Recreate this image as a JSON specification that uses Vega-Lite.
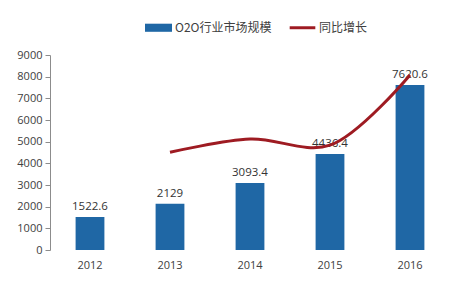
{
  "$schema": "https://vega.github.io/schema/vega-lite/v6.json",
  "autosize": "none",
  "width": 400,
  "height": 195,
  "padding": {"left": 50, "top": 55, "right": 0, "bottom": 43},
  "background": "white",
  "config": {
    "view": {"stroke": null},
    "font": "Open Sans",
    "text": {"font": "Open Sans"}
  },
  "data": {
    "values": [
      {"year": "2012", "value": 1522.6, "growth": null},
      {"year": "2013", "value": 2129, "growth": 0.401},
      {"year": "2014", "value": 3093.4, "growth": 0.455},
      {"year": "2015", "value": 4436.4, "growth": 0.43},
      {"year": "2016", "value": 7620.6, "growth": 0.718}
    ]
  },
  "encoding": {
    "x": {
      "field": "year",
      "type": "ordinal",
      "scale": {"paddingInner": 0.64, "paddingOuter": 0.32},
      "axis": {
        "title": null,
        "domain": false,
        "ticks": false,
        "labelAngle": 0,
        "labelPadding": 9,
        "labelFontSize": 11,
        "labelColor": "#404040",
        "labelFont": "Open Sans"
      }
    }
  },
  "layer": [
    {
      "mark": {"type": "bar"},
      "encoding": {
        "y": {
          "field": "value",
          "type": "quantitative",
          "scale": {"domain": [0, 9000]},
          "axis": {
            "title": null,
            "grid": false,
            "format": "d",
            "values": [0, 1000, 2000, 3000, 4000, 5000, 6000, 7000, 8000, 9000],
            "domainColor": "#8c8c8c",
            "tickColor": "#8c8c8c",
            "tickSize": 5,
            "labelPadding": 3,
            "labelFontSize": 11,
            "labelColor": "#404040",
            "labelFont": "Open Sans"
          }
        },
        "color": {
          "datum": "O2O行业市场规模",
          "type": "nominal",
          "scale": {"domain": ["O2O行业市场规模", "同比增长"], "range": ["#1f67a5", "#9e1b22"]},
          "legend": {
            "title": null,
            "orient": "none",
            "legendX": 95,
            "legendY": -41,
            "direction": "horizontal",
            "columns": 2,
            "columnPadding": 17,
            "padding": 0,
            "symbolSize": 729,
            "labelOffset": 3,
            "labelFontSize": 12,
            "labelColor": "#404040",
            "labelFont": "Noto Sans CJK SC",
            "encode": {
              "symbols": {
                "update": {
                  "shape": {"signal": "datum.value == '同比增长' ? 'M-0.95,-0.11H0.95V0.11H-0.95Z' : 'M-1,-0.3H1V0.3H-1Z'"},
                  "fill": {"signal": "datum.value == '同比增长' ? '#9e1b22' : '#1f67a5'"},
                  "stroke": {"value": "transparent"},
                  "strokeWidth": {"value": 0},
                  "opacity": {"value": 1},
                  "fillOpacity": {"value": 1}
                }
              }
            }
          }
        }
      }
    },
    {
      "mark": {"type": "text", "dy": -10, "fontSize": 11.5, "color": "#333333", "font": "Open Sans"},
      "encoding": {
        "y": {"field": "value", "type": "quantitative", "scale": {"domain": [0, 9000]}, "axis": null},
        "text": {"field": "value", "type": "quantitative", "format": ".1~f"}
      }
    },
    {
      "transform": [{"filter": "datum.growth != null"}],
      "mark": {"type": "line", "interpolate": "catmull-rom", "strokeWidth": 3},
      "encoding": {
        "y": {"field": "growth", "type": "quantitative", "scale": {"domain": [0, 0.8]}, "axis": null},
        "color": {"datum": "同比增长", "type": "nominal"}
      }
    }
  ],
  "resolve": {"scale": {"y": "independent"}}
}
